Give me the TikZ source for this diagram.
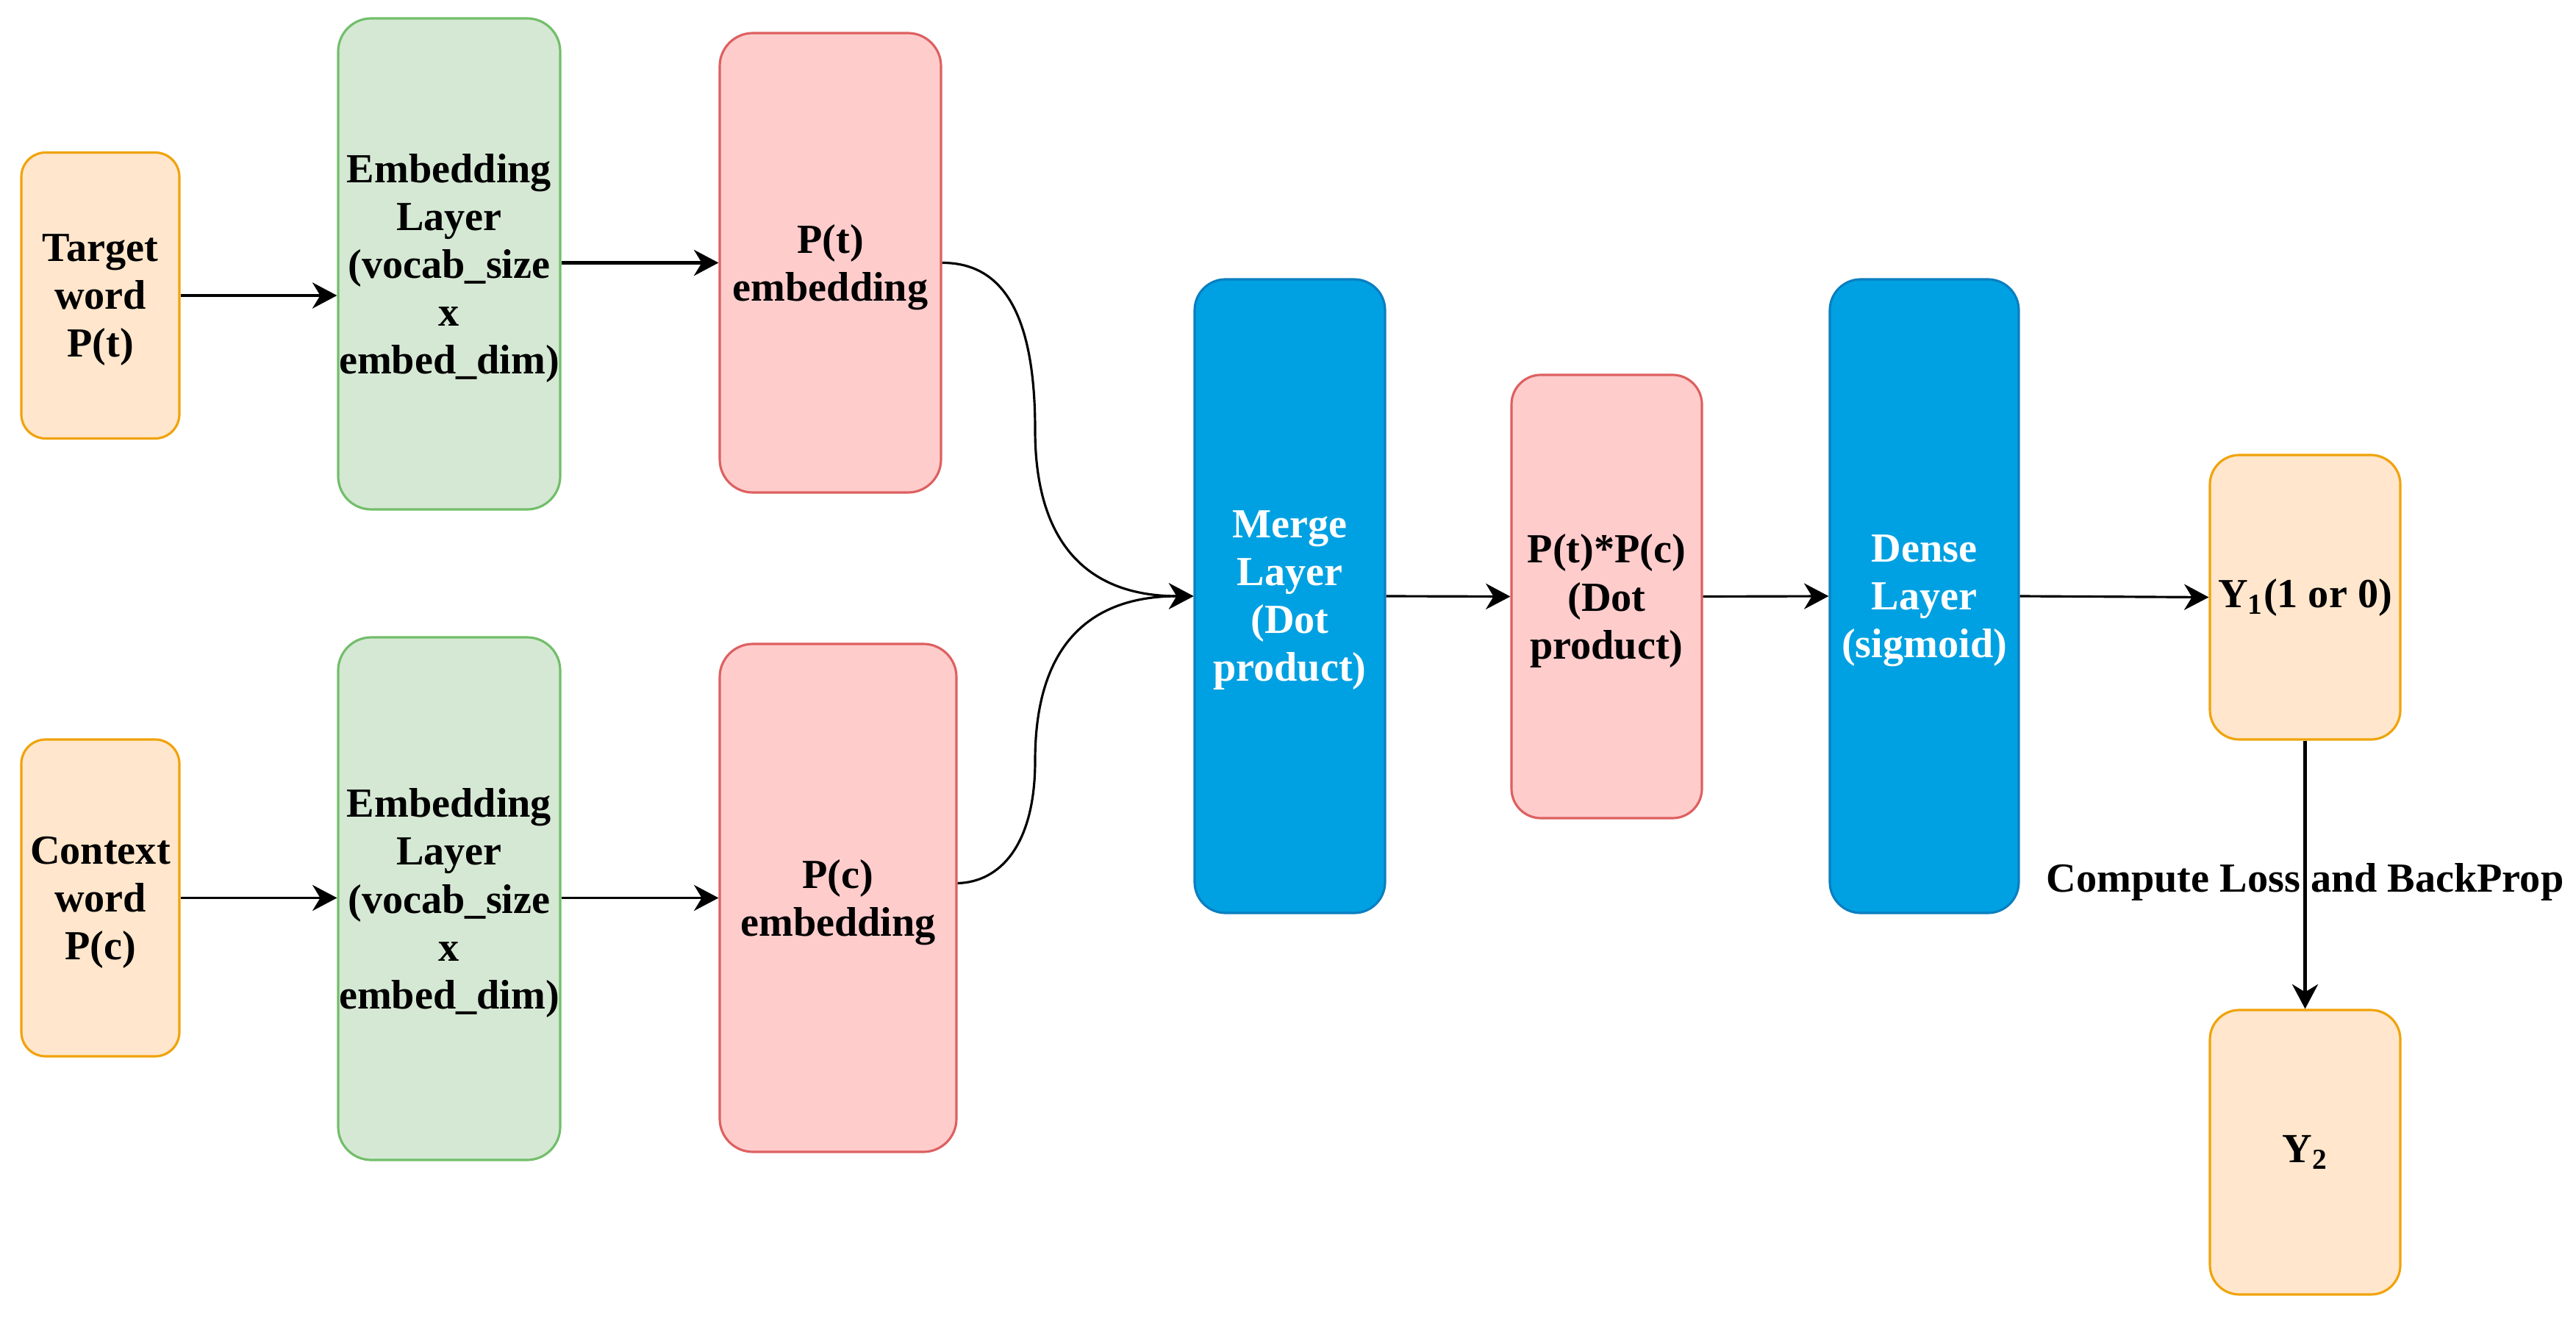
\documentclass[tikz,border=0pt]{standalone}
\usepackage{fontspec}
\setmainfont{Liberation Serif}
\usepackage{tikz}
\usetikzlibrary{arrows.meta,positioning,calc}
\definecolor{wordfill}{HTML}{FFE6CC}
\definecolor{worddraw}{HTML}{F0A30A}
\definecolor{embfill}{HTML}{D5E8D4}
\definecolor{embdraw}{HTML}{72BE6A}
\definecolor{vecfill}{HTML}{FFCCCC}
\definecolor{vecdraw}{HTML}{DD6060}
\definecolor{layerfill}{HTML}{00A1E2}
\definecolor{layerdraw}{HTML}{0A7FC0}

\begin{document}
\begin{tikzpicture}[
  every node/.style={font=\bfseries\fontsize{16}{18.5}\selectfont, align=center},
  box/.style={draw, line width=0.9pt, inner sep=0pt},
  lowtext/.style={text depth=0pt},
  wordbox/.style={box, draw=worddraw, fill=wordfill, rounded corners=0.33cm},
  embbox/.style={box, lowtext, draw=embdraw, fill=embfill, rounded corners=0.45cm},
  vecbox/.style={box, lowtext, draw=vecdraw, fill=vecfill, rounded corners=0.45cm},
  layerbox/.style={box, lowtext, draw=layerdraw, fill=layerfill, text=white, rounded corners=0.42cm},
  flow/.style={-{Stealth[length=9.5pt,width=10pt,inset=3pt]}, line width=0.9pt},
  boldflow/.style={flow, line width=1.3pt}
]
\useasboundingbox (0,0) rectangle (35.04,-17.93);

% Input words
\node[wordbox, lowtext, minimum width=2.15cm, minimum height=3.89cm] (target) at (1.365,-4.02) {Target\\word\\P(t)};
\node[wordbox, lowtext, minimum width=2.15cm, minimum height=4.31cm] (context) at (1.365,-12.215) {Context\\word\\P(c)};

% Embedding layers
\node[embbox, minimum width=3.02cm, minimum height=6.68cm] (embt) at (6.11,-3.59) {Embedding\\Layer\\(vocab\_size\\x\\embed\_dim)};
\node[embbox, minimum width=3.02cm, minimum height=7.11cm] (embc) at (6.11,-12.225) {Embedding\\Layer\\(vocab\_size\\x\\embed\_dim)};

% Embedding vectors
\node[vecbox, minimum width=3.01cm, minimum height=6.25cm] (vect) at (11.295,-3.575) {P(t)\\embedding};
\node[vecbox, minimum width=3.22cm, minimum height=6.91cm] (vecc) at (11.40,-12.215) {P(c)\\embedding};

% Merge, product, dense
\node[layerbox, minimum width=2.59cm, minimum height=8.62cm] (merge) at (17.545,-8.11) {Merge\\Layer\\(Dot\\product)};
\node[vecbox, minimum width=2.59cm, minimum height=6.03cm, rounded corners=0.4cm] (prod) at (21.855,-8.115) {P(t)*P(c)\\(Dot\\product)};
\node[layerbox, minimum width=2.57cm, minimum height=8.62cm] (dense) at (26.175,-8.11) {Dense\\Layer\\(sigmoid)};

% Outputs
\node[wordbox, minimum width=2.59cm, minimum height=3.87cm, rounded corners=0.4cm] (yone) at (31.355,-8.125) {Y\textsubscript{1}(1 or 0)};
\node[wordbox, minimum width=2.59cm, minimum height=3.87cm, rounded corners=0.4cm] (ytwo) at (31.355,-15.675) {Y\textsubscript{2}};

% Bend points of the curves
\coordinate (bendt) at (14.08,-5.85);
\coordinate (bendc) at (14.08,-10.35);

% Arrows
\draw[boldflow] (target.east) -- (embt.west |- target.east);
\draw[boldflow] (embt.east |- vect.east) -- (vect.east -| vect.west);
\draw[flow] (context.east) -- (embc.west |- context.east);
\draw[flow] (embc.east |- vecc.west) -- (vecc.west);
\draw[flow] (vect.east) .. controls (13.6,-3.575) and (14.08,-4.2) .. (bendt)
  .. controls (14.08,-7.4) and (14.8,-8.11) .. (merge.west);
\draw[flow] ($(vecc.east)+(0,0.2)$) .. controls (13.6,-12.0) and (14.08,-11.5) .. (bendc)
  .. controls (14.08,-8.8) and (14.8,-8.11) .. (merge.west);
\draw[flow] (merge.east) -- (prod.west);
\draw[flow] (prod.east) -- (dense.west);
\draw[flow] (dense.east) -- (yone.west);
\draw[boldflow] (yone.south) -- node[pos=0.5, yshift=-0.1cm] {Compute Loss and BackProp} (ytwo.north);

\end{tikzpicture}
\end{document}
